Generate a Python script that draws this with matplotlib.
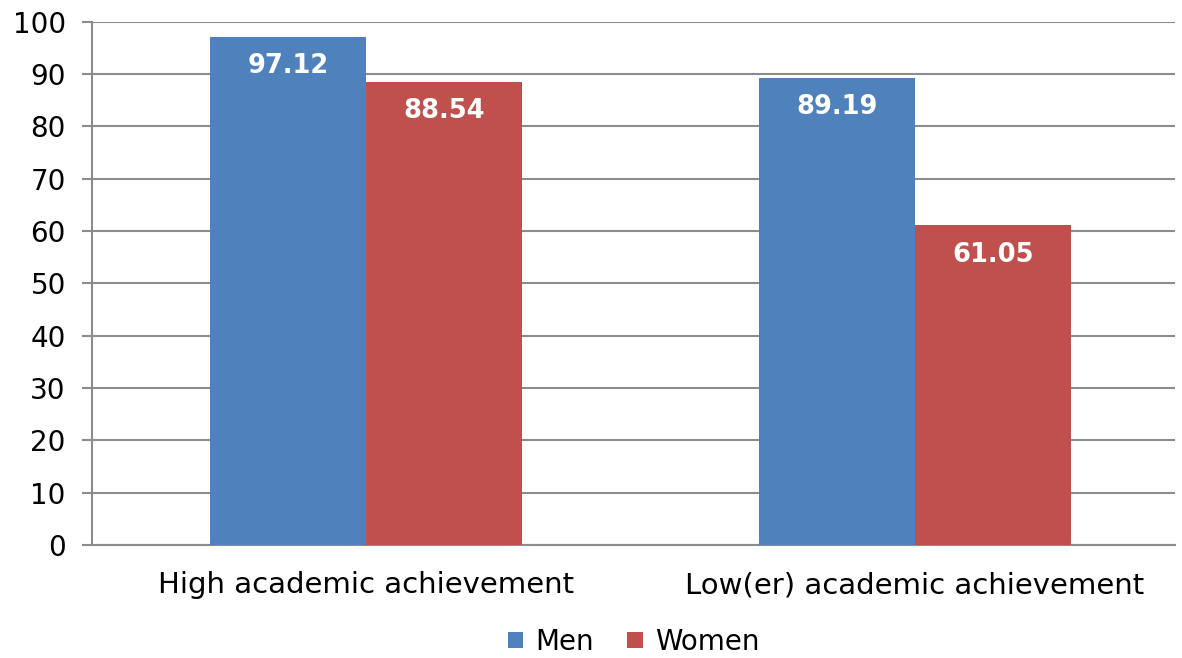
import matplotlib
matplotlib.use("Agg")
import matplotlib.pyplot as plt
import numpy as np

categories = ["High academic achievement", "Low(er) academic achievement"]
series_names = ["Men", "Women"]
men = [97.12, 89.19]
women = [88.54, 61.05]
yticks = [0, 10, 20, 30, 40, 50, 60, 70, 80, 90, 100]

colors = {"Men": "#4F81BD", "Women": "#C0504D"}
grid_color = "#8C8C8C"

plt.rcParams["font.family"] = ["DejaVu Sans"]

fig = plt.figure(figsize=(11.82, 6.58), dpi=100)
ax = fig.add_axes([0.078, 0.172, 0.916, 0.795])

x = np.arange(len(categories))
width = 0.284
bars_m = ax.bar(x - width / 2, men, width, color=colors["Men"], label="Men", zorder=3)
bars_w = ax.bar(x + width / 2, women, width, color=colors["Women"], label="Women", zorder=3)

for bars, vals in ((bars_m, men), (bars_w, women)):
    for b, v in zip(bars, vals):
        ax.annotate(f"{v:.2f}", (b.get_x() + b.get_width() / 2, v),
                    xytext=(0, -21), textcoords="offset points",
                    ha="center", va="center", color="white",
                    fontsize=18.5, fontweight="bold", zorder=4)

ax.set_xlim(-0.499, 1.474)
ax.set_ylim(0, 100)
ax.set_yticks(yticks)
ax.set_xticks(x)
ax.set_xticklabels(categories)
ax.yaxis.grid(True, color=grid_color, linewidth=1.5, zorder=0)
ax.set_axisbelow(True)

for s in ("top", "right"):
    ax.spines[s].set_visible(False)
for s in ("left", "bottom"):
    ax.spines[s].set_color(grid_color)
    ax.spines[s].set_linewidth(1.5)

ax.tick_params(axis="y", length=7, width=1.5, color=grid_color, pad=12, labelsize=20)
ax.tick_params(axis="x", length=0, pad=19, labelsize=21)

ax.legend(loc="upper center", bbox_to_anchor=(0.5, -0.127), ncol=2, frameon=False,
          fontsize=20, handlelength=0.55, handleheight=0.55, handletextpad=0.45,
          columnspacing=1.2, borderpad=0.1)

fig.savefig("out.png", dpi=100)
